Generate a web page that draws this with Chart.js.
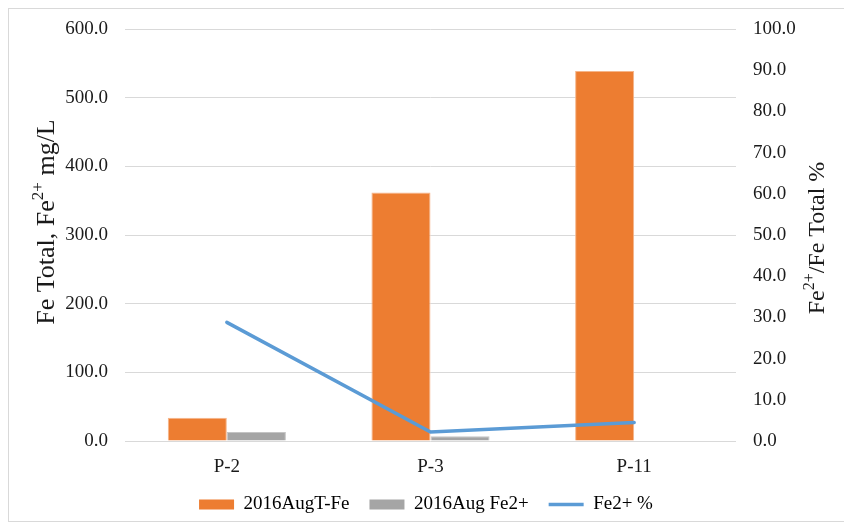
<!DOCTYPE html>
<html>
<head>
<meta charset="utf-8">
<script src="https://cdn.jsdelivr.net/npm/chart.js@4.4.1/dist/chart.umd.min.js"></script>
<style>
html,body{margin:0;padding:0;background:#ffffff;}
#wrap{width:844px;height:526px;}
</style>
</head>
<body>
<div id="wrap"><canvas id="c" width="844" height="526"></canvas></div>
<script>
// ---- data ----
const categories = ['P-2', 'P-3', 'P-11'];
const totalFe = [34, 362, 539];          // 2016AugT-Fe (mg/L)
const fe2 = [13, 7, null];               // 2016Aug Fe2+ (mg/L)
const fe2Pct = [28.8, 2.2, 4.5];         // Fe2+ % (right axis)
const seriesNames = ['2016AugT-Fe', '2016Aug Fe2+', 'Fe2+ %'];
// axis titles as [text, isSuperscript] parts
const leftAxisTitle = [['Fe Total, Fe', false], ['2+', true], [' mg/L', false]];
const rightAxisTitle = [['Fe', false], ['2+', true], ['/Fe Total %', false]];
const leftRange = [0, 600, 100];
const rightRange = [0, 100, 10];

// ---- styles ----
const ORANGE = '#ED7D31', GRAY = '#A5A5A5', BLUE = '#5B9BD5';
const FONT = "'Liberation Serif', 'Times New Roman', serif";
const TXT = '#1a1a1a';
const TICK_SIZE = 19;

function drawVerticalTitle(ctx, parts, cx, cy, size) {
  ctx.save();
  ctx.translate(cx, cy);
  ctx.rotate(-Math.PI / 2);
  ctx.fillStyle = TXT;
  ctx.textBaseline = 'alphabetic';
  ctx.textAlign = 'left';
  const fontFor = sup => (sup ? Math.round(size * 0.65) : size) + 'px ' + FONT;
  let total = 0;
  const widths = parts.map(([t, sup]) => { ctx.font = fontFor(sup); const w = ctx.measureText(t).width; total += w; return w; });
  let x = -total / 2;
  const base = size * 0.33;
  parts.forEach(([t, sup], i) => {
    ctx.font = fontFor(sup);
    ctx.fillText(t, x, sup ? base - size * 0.4 : base);
    x += widths[i];
  });
  ctx.restore();
}

const decorPlugin = {
  id: 'decor',
  beforeDraw(chart) {
    const ctx = chart.ctx;
    ctx.save();
    ctx.fillStyle = '#ffffff';
    ctx.fillRect(0, 0, chart.width, chart.height);
    ctx.strokeStyle = '#d9d9d9';
    ctx.lineWidth = 1;
    ctx.strokeRect(8.5, 8.5, 845, 513);
    ctx.restore();
  },
  afterDraw(chart) {
    const ctx = chart.ctx;
    const area = chart.chartArea;
    drawVerticalTitle(ctx, leftAxisTitle, 45, (area.top + area.bottom) / 2 - 13, 26);
    drawVerticalTitle(ctx, rightAxisTitle, 816, (area.top + area.bottom) / 2 + 3, 24);
  }
};

new Chart(document.getElementById('c'), {
  type: 'bar',
  data: {
    labels: categories,
    datasets: [
      { type: 'bar', label: seriesNames[0], data: totalFe, backgroundColor: ORANGE, borderColor: '#F5B58A', borderWidth: 1, yAxisID: 'y', order: 1 },
      { type: 'bar', label: seriesNames[1], data: fe2, backgroundColor: GRAY, borderColor: '#C4C4C4', borderWidth: 1, yAxisID: 'y', order: 1 },
      { type: 'line', label: seriesNames[2], data: fe2Pct, borderColor: BLUE, backgroundColor: BLUE, borderWidth: 3.5,
        pointRadius: 0, tension: 0, fill: false, yAxisID: 'y1', order: 0, borderCapStyle: 'round' }
    ]
  },
  options: {
    responsive: false,
    animation: false,
    devicePixelRatio: 1,
    layout: { padding: { left: 8, right: 0, top: 29, bottom: 11 } },
    datasets: { bar: { categoryPercentage: 0.58, barPercentage: 1.0 } },
    plugins: {
      tooltip: { enabled: false },
      title: { display: false },
      legend: {
        position: 'bottom',
        maxHeight: 40,
        labels: {
          usePointStyle: true,
          pointStyleWidth: 35,
          boxHeight: 10,
          padding: 20,
          color: TXT,
          font: { family: FONT, size: 19 },
          generateLabels() {
            return [
              { text: seriesNames[0], fillStyle: ORANGE, strokeStyle: ORANGE, lineWidth: 0, pointStyle: 'rect', datasetIndex: 0, hidden: false },
              { text: seriesNames[1], fillStyle: GRAY, strokeStyle: GRAY, lineWidth: 0, pointStyle: 'rect', datasetIndex: 1, hidden: false },
              { text: seriesNames[2], fillStyle: BLUE, strokeStyle: BLUE, lineWidth: 3.5, pointStyle: 'line', datasetIndex: 2, hidden: false }
            ];
          }
        }
      }
    },
    scales: {
      x: {
        grid: { display: false, drawTicks: false },
        border: { display: false },
        ticks: { color: TXT, font: { family: FONT, size: TICK_SIZE }, padding: 15 },
        afterFit(s) { s.height = 34; }
      },
      y: {
        position: 'left',
        min: leftRange[0], max: leftRange[1],
        ticks: { stepSize: leftRange[2], color: TXT, font: { family: FONT, size: TICK_SIZE }, padding: 17,
                 callback: v => Number(v).toFixed(1) },
        grid: { color: '#d9d9d9', lineWidth: 1, drawTicks: false },
        border: { display: false },
        title: { display: false },
        afterFit(s) { s.width = 117; }
      },
      y1: {
        position: 'right',
        min: rightRange[0], max: rightRange[1],
        ticks: { stepSize: rightRange[2], color: TXT, font: { family: FONT, size: TICK_SIZE }, padding: 17,
                 callback: v => Number(v).toFixed(1) },
        grid: { display: false, drawTicks: false },
        border: { display: false },
        title: { display: false },
        afterFit(s) { s.width = 108; }
      }
    }
  },
  plugins: [decorPlugin]
});
</script>
</body>
</html>
